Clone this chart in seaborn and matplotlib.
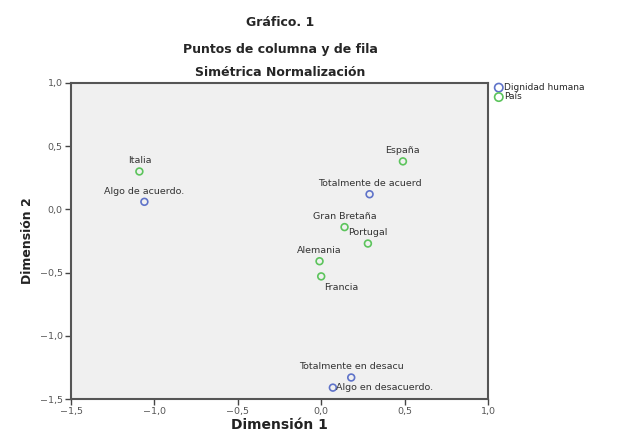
import matplotlib
matplotlib.use("Agg")
import matplotlib.pyplot as plt
import seaborn as sns
import pandas as pd
from matplotlib.ticker import FuncFormatter

labels = ["Algo de acuerdo.", "Totalmente de acuerd", "Totalmente en desacu", "Algo en desacuerdo.",
          "Italia", "España", "Gran Bretaña", "Portugal", "Alemania", "Francia"]
groups = ["Dignidad humana"] * 4 + ["País"] * 6
dim1 = [-1.06, 0.29, 0.18, 0.07, -1.09, 0.49, 0.14, 0.28, -0.01, 0.0]
dim2 = [0.06, 0.12, -1.33, -1.41, 0.30, 0.38, -0.14, -0.27, -0.41, -0.53]
# label placement: 'above', 'below', 'right'
placement = ["above", "above", "above", "right", "above", "above", "above", "above", "above", "below"]

df = pd.DataFrame({"label": labels, "grupo": groups, "d1": dim1, "d2": dim2})

sns.set_style("white")
plt.rcParams['font.family'] = ['DejaVu Sans']

fig = plt.figure(figsize=(6.27, 4.36), dpi=100)
ax = fig.add_axes([71 / 627, 1 - 399 / 436, (488 - 71) / 627, (399 - 83) / 436])
ax.set_facecolor("#f0f0f0")

palette = {"Dignidad humana": "#5f73c9", "País": "#5cc45c"}
for g, col in palette.items():
    sub = df[df.grupo == g]
    sns.scatterplot(data=sub, x="d1", y="d2", ax=ax, marker="o", s=24,
                    facecolors="none", edgecolor=col, linewidth=1.2, label=g)

lab_kw = dict(fontsize=6.8, color="#333333")
for lab, x, y, p in zip(labels, dim1, dim2, placement):
    if p == "above":
        ax.annotate(lab, (x, y), xytext=(0, 4.5), textcoords="offset points",
                    ha="center", va="bottom", **lab_kw)
    elif p == "below":
        ax.annotate(lab, (x, y), xytext=(2, -4.5), textcoords="offset points",
                    ha="left", va="top", **lab_kw)
    else:
        ax.annotate(lab, (x, y), xytext=(2.5, 0), textcoords="offset points",
                    ha="left", va="center", **lab_kw)

ax.set_xlim(-1.5, 1.0)
ax.set_ylim(-1.5, 1.0)
ax.set_xticks([-1.5, -1.0, -0.5, 0.0, 0.5, 1.0])
ax.set_yticks([-1.5, -1.0, -0.5, 0.0, 0.5, 1.0])
fmt = FuncFormatter(lambda v, pos: ("%.1f" % v).replace(".", ",").replace("-", "\u2212"))
ax.xaxis.set_major_formatter(fmt)
ax.yaxis.set_major_formatter(fmt)
ax.tick_params(axis="both", direction="out", length=4, width=1, labelsize=6.8,
               colors="#444444", labelcolor="#555555", bottom=True, left=True, pad=2)
for sp in ax.spines.values():
    sp.set_color("#555555")
    sp.set_linewidth(1.5)

ax.set_xlabel("Dimensión 1", fontsize=10, fontweight="bold", color="#222222", labelpad=1)
ax.set_ylabel("Dimensión 2", fontsize=9, fontweight="bold", color="#222222", labelpad=4)

fig.text(280 / 627, 1 - 22 / 436, "Gráfico. 1", ha="center", va="center", fontsize=9, fontweight="bold")
fig.text(280 / 627, 1 - 50 / 436, "Puntos de columna y de fila", ha="center", va="center", fontsize=9, fontweight="bold")
fig.text(280 / 627, 1 - 72 / 436, "Simétrica Normalización", ha="center", va="center", fontsize=9, fontweight="bold")

leg = ax.legend(loc="upper left", bbox_to_anchor=(1.015, 1.0), frameon=False, fontsize=6.5,
                handletextpad=0.05, borderaxespad=0, labelspacing=0.05, handlelength=1.0,
                borderpad=0)
for h in leg.legend_handles:
    h.set_sizes([36])

fig.savefig("out.png", dpi=100, facecolor="white")
